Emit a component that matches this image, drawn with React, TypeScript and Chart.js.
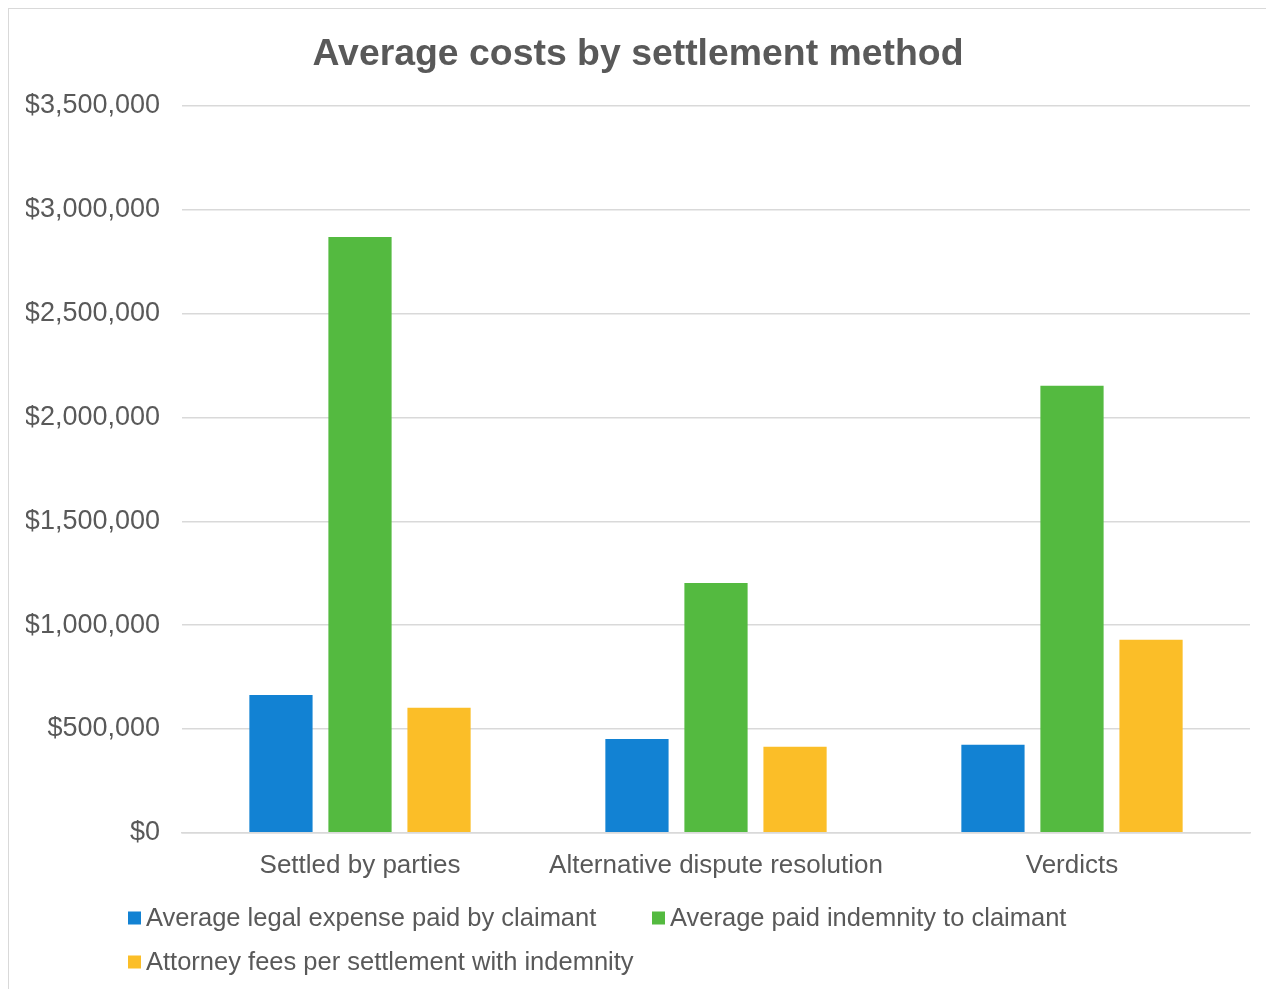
import React, { useEffect, useRef } from "react";
import { Chart, registerables } from "chart.js";

Chart.register(...registerables);

const categories = ["Settled by parties", "Alternative dispute resolution", "Verdicts"];
const seriesLabels = [
  "Average legal expense paid by claimant",
  "Average paid indemnity to claimant",
  "Attorney fees per settlement with indemnity",
];
const legalExpense = [664000, 452000, 424000];
const paidIndemnity = [2869000, 1203000, 2152000];
const attorneyFees = [602000, 414000, 929000];
const seriesColors = ["#1282D3", "#54BA40", "#FBBE28"];
const yTickMax = 3500000;
const yTickStep = 500000;

const FONT = "'Liberation Sans', Arial, sans-serif";
const TEXT = "#595959";

const excelLegend = {
  id: "excelLegend",
  afterDraw(chart: any, _args: any, opts: any) {
    const ctx = chart.ctx;
    const xs = chart.scales.x;
    ctx.save();
    ctx.font = `${opts.size}px ${FONT}`;
    ctx.textBaseline = "middle";
    ctx.textAlign = "left";
    chart.data.datasets.forEach((ds: any, i: number) => {
      const col = i % opts.columns;
      const row = Math.floor(i / opts.columns);
      const x = opts.startX + col * opts.columnWidth;
      const y = xs.bottom + opts.firstRowOffset + row * opts.rowHeight;
      ctx.fillStyle = ds.backgroundColor;
      ctx.fillRect(x, y - opts.boxSize / 2, opts.boxSize, opts.boxSize);
      ctx.fillStyle = opts.color;
      ctx.fillText(ds.label, x + opts.boxSize + opts.gap, y + 1);
    });
    ctx.restore();
  },
};

export default function App() {
  const ref = useRef<HTMLCanvasElement>(null);
  useEffect(() => {
    if (!ref.current) return;
    const values = [legalExpense, paidIndemnity, attorneyFees];
    const chart = new Chart(ref.current, {
      type: "bar",
      data: {
        labels: categories,
        datasets: values.map((v, i) => ({
          label: seriesLabels[i],
          data: v,
          backgroundColor: seriesColors[i],
          borderWidth: 0,
          categoryPercentage: 0.666,
          barPercentage: 0.8,
        })),
      },
      options: {
        responsive: false,
        devicePixelRatio: 1,
        animation: false,
        layout: { padding: { left: 17, right: 21, top: 0, bottom: 101 } },
        plugins: {
          legend: { display: false },
          tooltip: { enabled: false },
          title: {
            display: true,
            text: "Average costs by settlement method",
            color: TEXT,
            font: { family: FONT, size: 37.4, weight: "bold" },
            padding: { top: 23, bottom: 29 },
          },
          excelLegend: {
            size: 25.5,
            color: TEXT,
            startX: 119,
            columnWidth: 524,
            columns: 2,
            firstRowOffset: 20,
            rowHeight: 44,
            boxSize: 13,
            gap: 5,
          },
        } as any,
        scales: {
          x: {
            grid: { display: false, drawTicks: false },
            border: { display: true, color: "#d9d9d9", width: 1.5 },
            ticks: { color: TEXT, font: { family: FONT, size: 26 }, padding: 17 },
          },
          y: {
            min: 0,
            max: yTickMax,
            border: { display: false },
            grid: { color: "#d9d9d9", lineWidth: 1.5, drawTicks: false },
            afterFit: (scale: any) => {
              scale.width = 156;
            },
            ticks: {
              stepSize: yTickStep,
              color: TEXT,
              font: { family: FONT, size: 27 },
              padding: 22,
              callback: (v: any) => "$" + Number(v).toLocaleString("en-US"),
            },
          },
        },
      },
      plugins: [excelLegend],
    });
    return () => chart.destroy();
  }, []);
  return (
    <div style={{ width: 1262, height: 990, border: "1px solid #d9d9d9", background: "#fff" }}>
      <canvas ref={ref} width={1262} height={990} style={{ display: "block" }} />
    </div>
  );
}
